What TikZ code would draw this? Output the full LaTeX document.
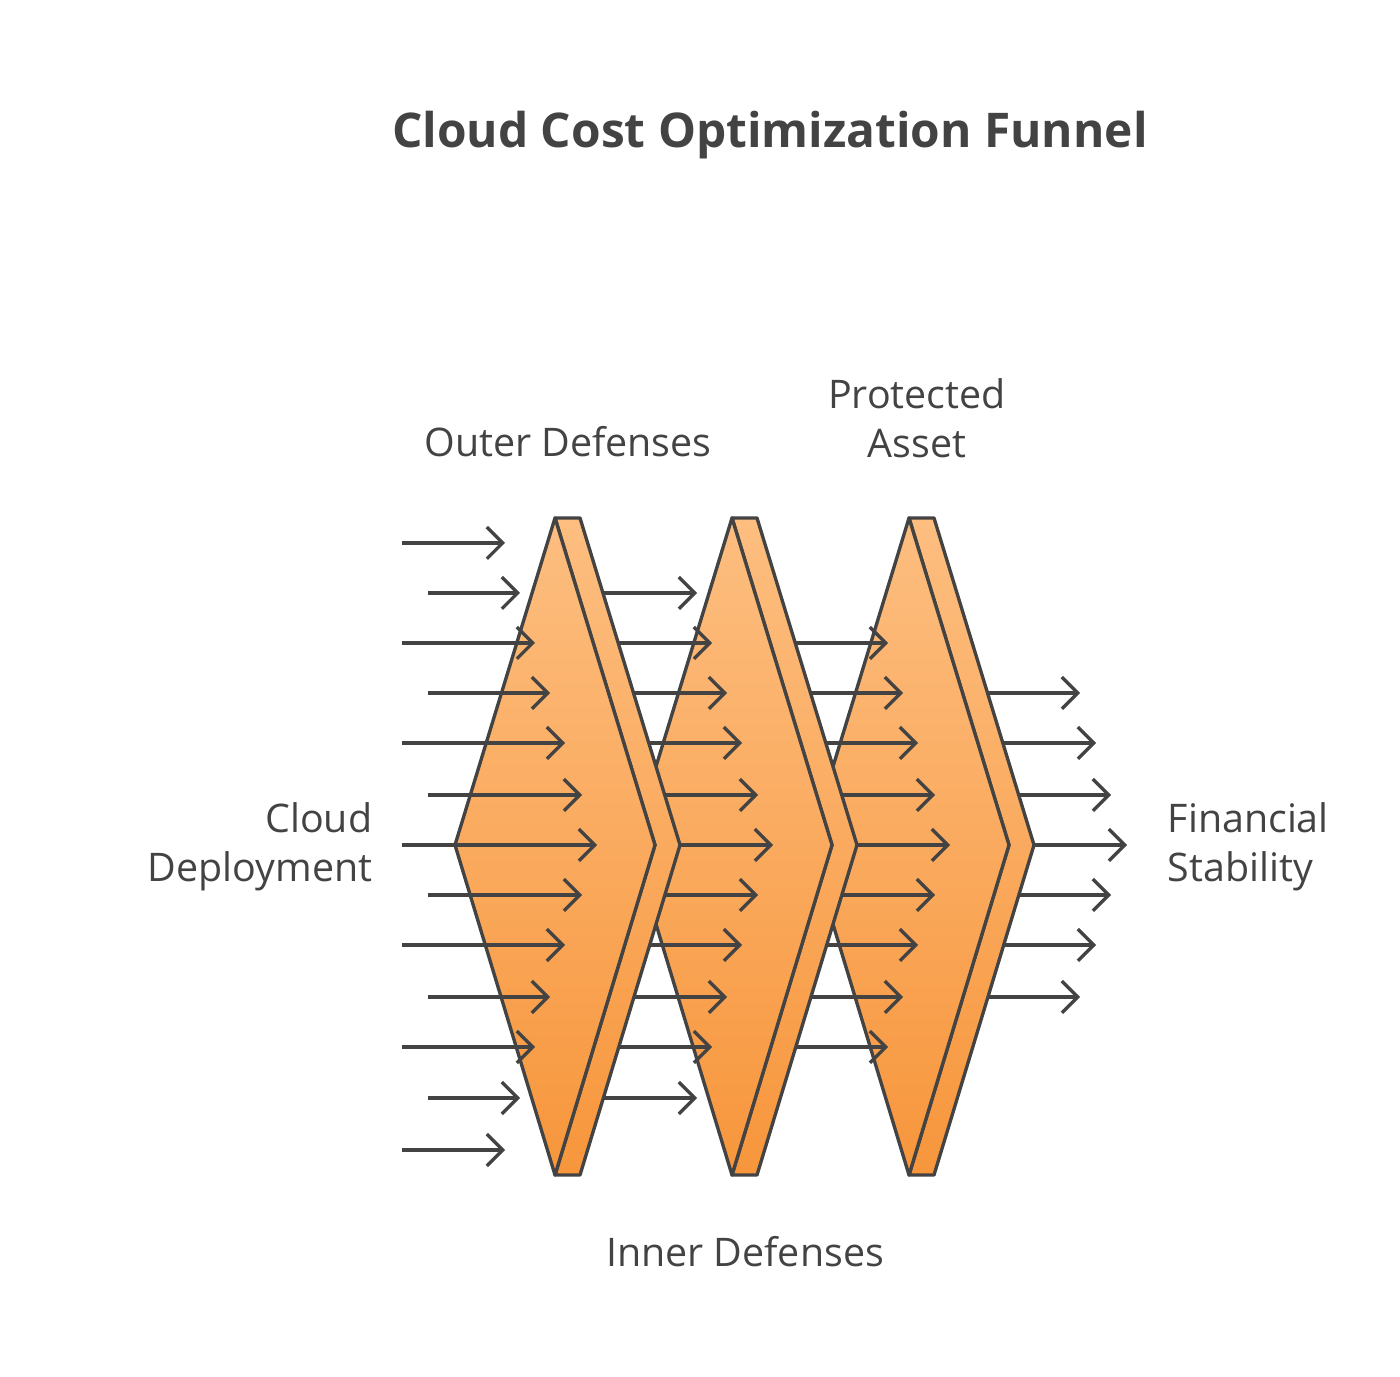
\documentclass[tikz,border=0pt]{standalone}
\usepackage{fontspec}
\setmainfont{Open Sans}
\usetikzlibrary{arrows.meta}
\definecolor{ink}{HTML}{434343}
\definecolor{otop}{HTML}{FDBE80}
\definecolor{obot}{HTML}{F7963C}
\tikzset{
  px/.style={x=0.01cm,y=-0.01cm},
  arr/.style={draw=ink,line width=0.95pt,-{Straight Barb[length=4.5pt,width=9pt,line width=0.95pt]}},
  panel/.style={draw=ink,line width=0.95pt,line join=round,top color=otop,bottom color=obot},
  lbl/.style={text=ink,font=\fontsize{11.2}{14}\selectfont,align=center},
}
\newcommand{\mypanel}[1]{%
  \begin{scope}[shift={(#1,0)}]
  \path[panel] (555,518)--(580,518)--(680,845)--(580,1175)--(555,1175)--(655,845)--cycle;
  \path[panel] (555,518)--(655,845)--(555,1175)--(455,845)--cycle;
  \end{scope}}
\begin{document}
\begin{tikzpicture}[px]
\useasboundingbox (0,0) rectangle (1400,1377);
\node[text=ink,font=\bfseries\fontsize{13.6}{16}\selectfont] (title) at (770,135) {Cloud Cost Optimization Funnel};
\foreach \y/\e in {693/1080,743/1096,795/1111,845/1127,895/1111,945/1096,997/1080}
  \draw[arr] (960,\y) -- (\e,\y);
\mypanel{354}
\foreach \y/\e in {643/888,693/903,743/918,795/935,845/950,895/935,945/918,997/903,1047/888}
  \draw[arr] (780,\y) -- (\e,\y);
\mypanel{177}
\foreach \y/\e in {593/697,643/712,693/727,743/742,795/758,845/773,895/758,945/742,997/727,1047/712,1098/697}
  \draw[arr] (600,\y) -- (\e,\y);
\mypanel{0}
\foreach \y/\s/\e in {543/402/505,593/428/520,643/402/535,693/428/550,743/402/565,795/428/582,845/402/597,895/428/582,945/402/565,997/428/550,1047/402/535,1098/428/520,1150/402/505}
  \draw[arr] (\s,\y) -- (\e,\y);
\node[lbl] (outer) at (568,442) {Outer Defenses};
\node[lbl] (prot) at (917,418) {Protected\\Asset};
\node[lbl] (inner) at (745,1252) {Inner Defenses};
\node[lbl,anchor=east,align=right,inner sep=0pt] (cloud) at (373,847) {Cloud\\Deployment};
\node[lbl,anchor=west,align=left,inner sep=0pt] (fin) at (1167,847) {Financial\\Stability};
\end{tikzpicture}
\end{document}
